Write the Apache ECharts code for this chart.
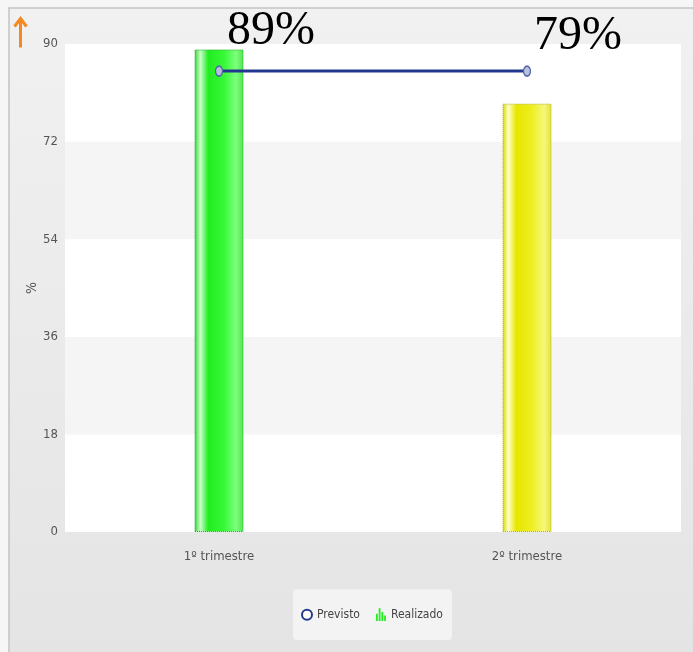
<!DOCTYPE html>
<html>
<head>
<meta charset="utf-8">
<script src="https://cdn.jsdelivr.net/npm/echarts@6/dist/echarts.min.js"></script>
<style>
  html, body { margin: 0; padding: 0; background: #f6f6f6; }
  #chart { width: 693px; height: 652px; }
</style>
</head>
<body>
<div id="chart"></div>
<script>
// dados
const categories = ['1º trimestre', '2º trimestre']
const previsto = [85, 85]
const realizado = [89, 79]
const yTicks = [0, 18, 36, 54, 72, 90]

// cores das barras (verde, amarelo)
const barColors = [
  ['#2fd62f', '#c9ffc9', '#22ec22', '#36f936', '#7dff7d', '#4fe64f'],
  ['#d6d600', '#ffffc4', '#e6e600', '#eeee22', '#f7f77a', '#e2e240']
]
const barBorders = ['#26a826', '#b3b300']
const labelOffsets = [[52, 6], [51, -43]]

const myChart = echarts.init(document.getElementById('chart'))
const font = '"DejaVu Sans Condensed", "DejaVu Sans", sans-serif'

function grad (c) {
  return new echarts.graphic.LinearGradient(0, 0, 1, 0, [
    { offset: 0, color: c[0] },
    { offset: 0.12, color: c[1] },
    { offset: 0.28, color: c[2] },
    { offset: 0.6, color: c[3] },
    { offset: 0.85, color: c[4] },
    { offset: 1, color: c[5] }
  ])
}

const barData = realizado.map((v, i) => ({
  value: v,
  itemStyle: {
    color: grad(barColors[i]),
    borderColor: barBorders[i],
    borderWidth: 1,
    borderType: 'dotted'
  },
  label: { offset: labelOffsets[i] }
}))

const option = {
  animation: false,
  graphic: [
    { // moldura
      type: 'rect',
      z: -10,
      shape: { x: 9, y: 8, width: 700, height: 660 },
      style: {
        fill: new echarts.graphic.LinearGradient(0, 0, 0, 1, [
          { offset: 0, color: '#f1f1f1' },
          { offset: 1, color: '#e4e4e4' }
        ]),
        stroke: '#c4c4c4',
        lineWidth: 1.5
      }
    },
    { // seta laranja
      type: 'group',
      left: 12,
      top: 16,
      children: [
        { type: 'line', shape: { x1: 6, y1: 3, x2: 6, y2: 30 }, style: { stroke: '#f5891f', lineWidth: 3 } },
        { type: 'polyline', shape: { points: [[0, 9], [6, 1], [12, 9]] }, style: { stroke: '#f5891f', lineWidth: 3, fill: null } }
      ]
    },
    { // titulo do eixo y
      type: 'text',
      x: 32,
      y: 288,
      rotation: Math.PI / 2,
      style: { text: '%', fill: '#555', font: '14px ' + font, align: 'center', verticalAlign: 'middle' }
    }
  ],
  legend: {
    bottom: 12,
    left: 293,
    padding: [19, 9, 19, 8],
    backgroundColor: '#f3f3f3',
    borderRadius: 4,
    itemGap: 16,
    itemWidth: 10,
    itemHeight: 13,
    textStyle: { color: '#444', fontSize: 12, fontFamily: font },
    data: [
      { name: 'Previsto', icon: 'emptyCircle', itemStyle: { color: '#233a8c', borderColor: '#233a8c', borderWidth: 2 } },
      { name: 'Realizado', icon: 'path://M0,6h2v8h-2zM3,0h2v14h-2zM6,4h2v10h-2zM9,8h2v6h-2z', itemStyle: { color: '#22ee22' } }
    ]
  },
  grid: {
    left: 65,
    right: 12,
    top: 44,
    bottom: 120,
    show: true,
    backgroundColor: '#fff',
    borderWidth: 0
  },
  xAxis: {
    type: 'category',
    data: categories,
    axisLine: { show: false },
    axisTick: { show: false },
    axisLabel: { color: '#555', fontSize: 13, fontFamily: font, margin: 18 }
  },
  yAxis: {
    type: 'value',
    min: yTicks[0],
    max: yTicks[yTicks.length - 1],
    interval: 18,
    axisLine: { show: false },
    axisTick: { show: false },
    splitLine: { show: false },
    splitArea: { show: true, areaStyle: { color: ['#ffffff', '#f5f5f5'] } },
    axisLabel: { color: '#555', fontSize: 13, fontFamily: font, margin: 7 }
  },
  series: [
    {
      name: 'Realizado',
      type: 'bar',
      barWidth: 49,
      data: barData,
      itemStyle: { color: '#22ee22' },
      label: {
        show: true,
        position: 'top',
        distance: 0,
        formatter: '{c}%',
        color: '#000',
        fontSize: 48,
        fontFamily: '"Liberation Serif", serif'
      }
    },
    {
      name: 'Previsto',
      type: 'line',
      data: previsto,
      symbol: 'circle',
      symbolSize: [7, 10],
      lineStyle: { color: '#22388f', width: 3 },
      itemStyle: { color: '#b8c0dc', borderColor: '#5466a8', borderWidth: 1.5 },
      z: 5
    }
  ]
}

myChart.setOption(option)
</script>
</body>
</html>
